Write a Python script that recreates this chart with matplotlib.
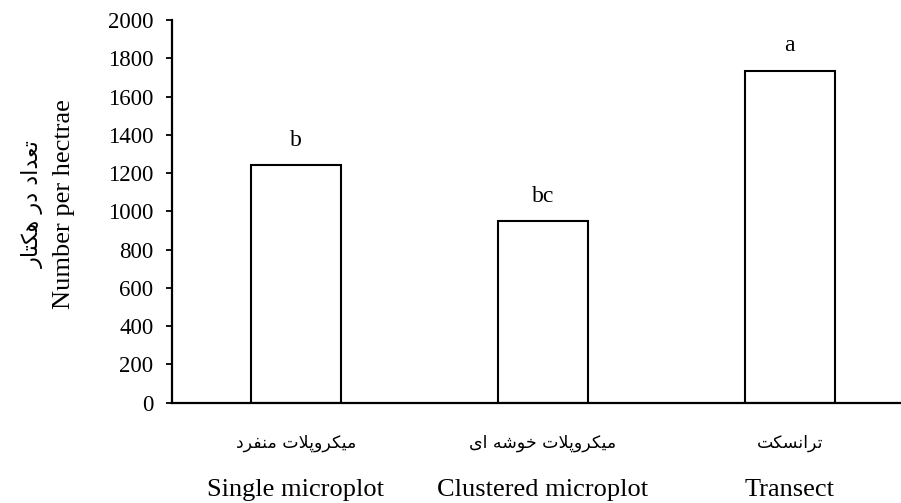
import matplotlib
matplotlib.use("Agg")
import matplotlib.pyplot as plt

# Data
categories_en = ["Single microplot", "Clustered microplot", "Transect"]
categories_fa = ["میکروپلات منفرد", "میکروپلات خوشه ای", "ترانسکت"]
values = [1241, 948, 1735]
letters = ["b", "bc", "a"]
yticks = [0, 200, 400, 600, 800, 1000, 1200, 1400, 1600, 1800, 2000]
ylabel_en = "Number per hectrae"
ylabel_fa = "تعداد در هکتار"

# Arabic presentation forms (isolated, final, initial, medial) - matplotlib has no shaping
FORMS = {
    "ا": ("\uFE8D", "\uFE8E"), "د": ("\uFEA9", "\uFEAA"),
    "ر": ("\uFEAD", "\uFEAE"), "و": ("\uFEED", "\uFEEE"),
    "م": ("\uFEE1", "\uFEE2", "\uFEE3", "\uFEE4"),
    "ی": ("\uFBFC", "\uFBFD", "\uFBFE", "\uFBFF"),
    "ک": ("\uFB8E", "\uFB8F", "\uFB90", "\uFB91"),
    "پ": ("\uFB56", "\uFB57", "\uFB58", "\uFB59"),
    "ل": ("\uFEDD", "\uFEDE", "\uFEDF", "\uFEE0"),
    "ت": ("\uFE95", "\uFE96", "\uFE97", "\uFE98"),
    "ن": ("\uFEE5", "\uFEE6", "\uFEE7", "\uFEE8"),
    "ف": ("\uFED1", "\uFED2", "\uFED3", "\uFED4"),
    "خ": ("\uFEA5", "\uFEA6", "\uFEA7", "\uFEA8"),
    "ش": ("\uFEB5", "\uFEB6", "\uFEB7", "\uFEB8"),
    "ه": ("\uFEE9", "\uFEEA", "\uFEEB", "\uFEEC"),
    "س": ("\uFEB1", "\uFEB2", "\uFEB3", "\uFEB4"),
    "ع": ("\uFEC9", "\uFECA", "\uFECB", "\uFECC"),
}


def shape(txt):
    # lam + alef ligature first
    chars = []
    i = 0
    while i < len(txt):
        if txt[i] == "ل" and i + 1 < len(txt) and txt[i + 1] == "ا":
            chars.append("LA")
            i += 2
        else:
            chars.append(txt[i])
            i += 1

    def dual(c):
        return c in FORMS and len(FORMS[c]) == 4

    out = []
    for k, c in enumerate(chars):
        prev = chars[k - 1] if k > 0 else None
        nxt = chars[k + 1] if k + 1 < len(chars) else None
        join_prev = prev is not None and dual(prev)
        if c == "LA":
            out.append("\uFEFC" if join_prev else "\uFEFB")
            continue
        if c not in FORMS:
            out.append(c)
            continue
        f = FORMS[c]
        join_next = dual(c) and nxt is not None and (nxt in FORMS or nxt == "LA")
        if join_prev and join_next:
            out.append(f[3])
        elif join_prev:
            out.append(f[1])
        elif join_next:
            out.append(f[2])
        else:
            out.append(f[0])
    return "".join(out)[::-1]


plt.rcParams["font.family"] = ["Liberation Serif", "DejaVu Sans"]

fig = plt.figure(figsize=(9.01, 5.03), dpi=100)
ax = fig.add_axes([0.1912, 0.1994, 0.8224, 0.7608])

x = list(range(len(values)))
ax.bar(x, values, width=0.364, color="white", edgecolor="black", linewidth=1.5)

for xi, v, lt in zip(x, values, letters):
    ax.annotate(lt, (xi, v), xytext=(0, 18), textcoords="offset points",
                ha="center", va="center", fontsize=17)

ax.set_xlim(-0.5, 2.5)
ax.set_ylim(0, 2000)
ax.set_yticks(yticks)
ax.set_yticklabels([str(t) for t in yticks], fontsize=16.5)
ax.set_xticks([])
ax.tick_params(axis="y", direction="out", length=4.5, width=1.3, pad=9)

for s in ["top", "right"]:
    ax.spines[s].set_visible(False)
for s in ["left", "bottom"]:
    ax.spines[s].set_linewidth(1.6)

trans = ax.get_xaxis_transform()
for xi, fa, en in zip(x, categories_fa, categories_en):
    ax.text(xi, -0.105, shape(fa), transform=trans, ha="center", va="center",
            fontsize=12.5, family=["DejaVu Sans"])
    ax.text(xi, -0.228, en, transform=trans, ha="center", va="center", fontsize=19)

fig.text(64 / 901, 1 - 204 / 503, ylabel_en, rotation=90, ha="center", va="center", fontsize=19)
fig.text(33 / 901, 1 - 204 / 503, shape(ylabel_fa), rotation=90, ha="center", va="center",
         fontsize=16, family=["DejaVu Sans"])

fig.savefig("out.png", dpi=100)
